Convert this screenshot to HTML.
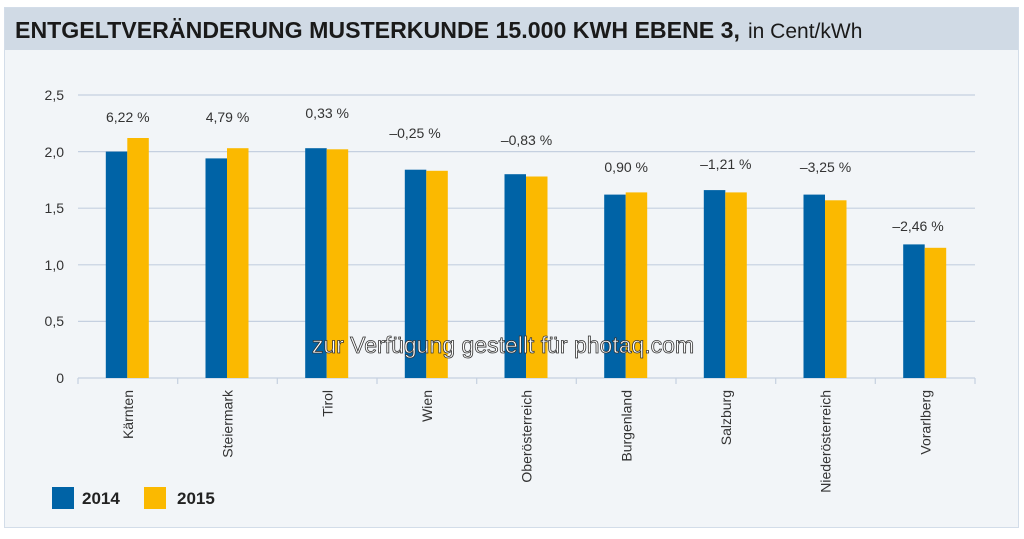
<!DOCTYPE html>
<html><head><meta charset="utf-8"><style>
body{margin:0;background:#fff;font-family:"Liberation Sans",sans-serif;}
</style></head><body>
<svg width="1024" height="534" viewBox="0 0 1024 534" xmlns="http://www.w3.org/2000/svg" font-family="Liberation Sans, sans-serif">
<rect x="4.5" y="7.5" width="1014" height="520" fill="#f2f5f8" stroke="#d3dde9"/>
<rect x="5" y="8" width="1013" height="42" fill="#d0dae5"/>
<text x="15" y="38" font-size="23" font-weight="bold" fill="#1a1a1a" textLength="725" lengthAdjust="spacingAndGlyphs">ENTGELTVERÄNDERUNG MUSTERKUNDE 15.000 KWH EBENE 3,</text>
<text x="748" y="38" font-size="21" fill="#1a1a1a">in Cent/kWh</text>
<g stroke="#c5d0e0" stroke-width="1.2">
<line x1="78" x2="975" y1="95" y2="95"/><line x1="78" x2="975" y1="151.6" y2="151.6"/>
<line x1="78" x2="975" y1="208.2" y2="208.2"/><line x1="78" x2="975" y1="264.8" y2="264.8"/>
<line x1="78" x2="975" y1="321.4" y2="321.4"/><line x1="78" x2="975" y1="378" y2="378"/>
<line x1="78" x2="78" y1="378" y2="384"/><line x1="177.7" x2="177.7" y1="378" y2="384"/>
<line x1="277.3" x2="277.3" y1="378" y2="384"/><line x1="377" x2="377" y1="378" y2="384"/>
<line x1="476.7" x2="476.7" y1="378" y2="384"/><line x1="576.3" x2="576.3" y1="378" y2="384"/>
<line x1="676" x2="676" y1="378" y2="384"/><line x1="775.7" x2="775.7" y1="378" y2="384"/>
<line x1="875.3" x2="875.3" y1="378" y2="384"/><line x1="975" x2="975" y1="378" y2="384"/>
</g>
<g font-size="14" fill="#333" text-anchor="end">
<text x="64" y="100">2,5</text><text x="64" y="157">2,0</text><text x="64" y="213">1,5</text>
<text x="64" y="270">1,0</text><text x="64" y="326">0,5</text><text x="64" y="383">0</text>
</g>
<g fill="#0063a6">
<rect x="105.8" y="151.6" width="21.5" height="226.4"/>
<rect x="205.5" y="158.4" width="21.5" height="219.6"/>
<rect x="305.2" y="148.2" width="21.5" height="229.8"/>
<rect x="404.8" y="169.7" width="21.5" height="208.3"/>
<rect x="504.5" y="174.2" width="21.5" height="203.8"/>
<rect x="604.2" y="194.6" width="21.5" height="183.4"/>
<rect x="703.8" y="190.1" width="21.5" height="187.9"/>
<rect x="803.5" y="194.6" width="21.5" height="183.4"/>
<rect x="903.2" y="244.4" width="21.5" height="133.6"/>
</g>
<g fill="#fbb900">
<rect x="127.3" y="138" width="21.5" height="240"/>
<rect x="227" y="148.2" width="21.5" height="229.8"/>
<rect x="326.7" y="149.3" width="21.5" height="228.7"/>
<rect x="426.3" y="170.8" width="21.5" height="207.2"/>
<rect x="526" y="176.5" width="21.5" height="201.5"/>
<rect x="625.7" y="192.4" width="21.5" height="185.6"/>
<rect x="725.3" y="192.4" width="21.5" height="185.6"/>
<rect x="825" y="200.3" width="21.5" height="177.7"/>
<rect x="924.7" y="247.8" width="21.5" height="130.2"/>
</g>
<g font-size="14" fill="#333" text-anchor="middle">
<text x="127.8" y="122">6,22 %</text>
<text x="227.5" y="122">4,79 %</text>
<text x="327.2" y="118">0,33 %</text>
<text x="415" y="138">–0,25 %</text>
<text x="526.5" y="145">–0,83 %</text>
<text x="626.2" y="172">0,90 %</text>
<text x="725.8" y="169">–1,21 %</text>
<text x="825.5" y="172">–3,25 %</text>
<text x="918" y="231">–2,46 %</text>
</g>
<g font-size="14" fill="#333" text-anchor="end">
<text transform="translate(133,390) rotate(-90)">Kärnten</text>
<text transform="translate(232.7,390) rotate(-90)">Steiermark</text>
<text transform="translate(332.4,390) rotate(-90)">Tirol</text>
<text transform="translate(432,390) rotate(-90)">Wien</text>
<text transform="translate(531.7,390) rotate(-90)">Oberösterreich</text>
<text transform="translate(631.4,390) rotate(-90)">Burgenland</text>
<text transform="translate(731,390) rotate(-90)">Salzburg</text>
<text transform="translate(830.7,390) rotate(-90)">Niederösterreich</text>
<text transform="translate(930.4,390) rotate(-90)">Vorarlberg</text>
</g>
<text x="503" y="353" font-size="23" fill="#fff" stroke="#333" stroke-width="0.8" text-anchor="middle">zur Verfügung gestellt für photaq.com</text>
<rect x="52" y="487" width="22" height="22" fill="#0063a6"/>
<text x="82" y="504" font-size="17" font-weight="bold" fill="#222">2014</text>
<rect x="144" y="487" width="22" height="22" fill="#fbb900"/>
<text x="177" y="504" font-size="17" font-weight="bold" fill="#222">2015</text>
</svg>
</body></html>
